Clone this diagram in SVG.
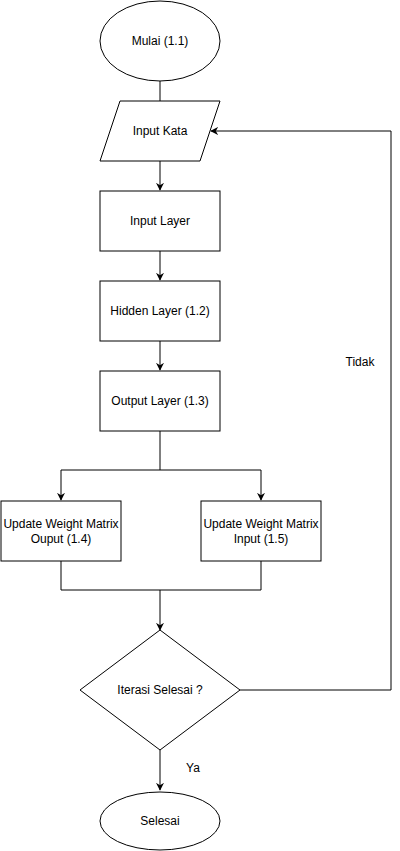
<svg xmlns="http://www.w3.org/2000/svg" width="400" height="851" viewBox="0 0 400 851">
<style>
.s{fill:#fff;stroke:#000;stroke-width:1}
.c{fill:none;stroke:#000;stroke-width:1}
text{font-family:"Liberation Sans",Arial,Helvetica,sans-serif;font-size:12px;fill:#000;text-anchor:middle;dominant-baseline:central}
</style>
<defs>
<marker id="a" viewBox="0 0 10 10" refX="9" refY="5" markerWidth="8" markerHeight="8" markerUnits="userSpaceOnUse" orient="auto">
<path d="M0,0 L10,5 L0,10 L3,5 Z" fill="#000"/>
</marker>
</defs>
<g id="connectors">
<path class="c" d="M160,81 V101"/>
<path class="c" d="M160,161 V190" marker-end="url(#a)"/>
<path class="c" d="M160,251 V280" marker-end="url(#a)"/>
<path class="c" d="M160,341 V370" marker-end="url(#a)"/>
<path class="c" d="M160,431 V470 H61 V500" marker-end="url(#a)"/>
<path class="c" d="M160,470 H261 V500" marker-end="url(#a)"/>
<path class="c" d="M61,561 V590 H261 V561"/>
<path class="c" d="M160,590 V630" marker-end="url(#a)"/>
<path class="c" d="M160,750 V790" marker-end="url(#a)"/>
<path class="c" d="M240,690 H391 V131 H211" marker-end="url(#a)"/>
<text x="193" y="768">Ya</text>
<text x="360" y="362">Tidak</text>
</g>
<g id="mulai"><ellipse class="s" cx="160" cy="41" rx="60" ry="40"/><text x="160" y="41">Mulai (1.1)</text></g>
<g id="input-kata"><path class="s" d="M120,101 H220 L200,161 H100 Z"/><text x="160" y="131">Input Kata</text></g>
<g id="input-layer"><rect class="s" x="100" y="191" width="120" height="60"/><text x="160" y="221">Input Layer</text></g>
<g id="hidden-layer"><rect class="s" x="100" y="281" width="120" height="60"/><text x="160" y="311">Hidden Layer (1.2)</text></g>
<g id="output-layer"><rect class="s" x="100" y="371" width="120" height="60"/><text x="160" y="401">Output Layer (1.3)</text></g>
<g id="update-output"><rect class="s" x="1" y="501" width="120" height="60"/><text x="61" y="524">Update Weight Matrix</text><text x="61" y="539">Ouput (1.4)</text></g>
<g id="update-input"><rect class="s" x="201" y="501" width="120" height="60"/><text x="261" y="524">Update Weight Matrix</text><text x="261" y="539">Input (1.5)</text></g>
<g id="iterasi"><path class="s" d="M160,630 L240,690 L160,750 L80,690 Z"/><text x="160" y="690">Iterasi Selesai ?</text></g>
<g id="selesai"><ellipse class="s" cx="160" cy="821" rx="60" ry="29"/><text x="160" y="821">Selesai</text></g>
</svg>
